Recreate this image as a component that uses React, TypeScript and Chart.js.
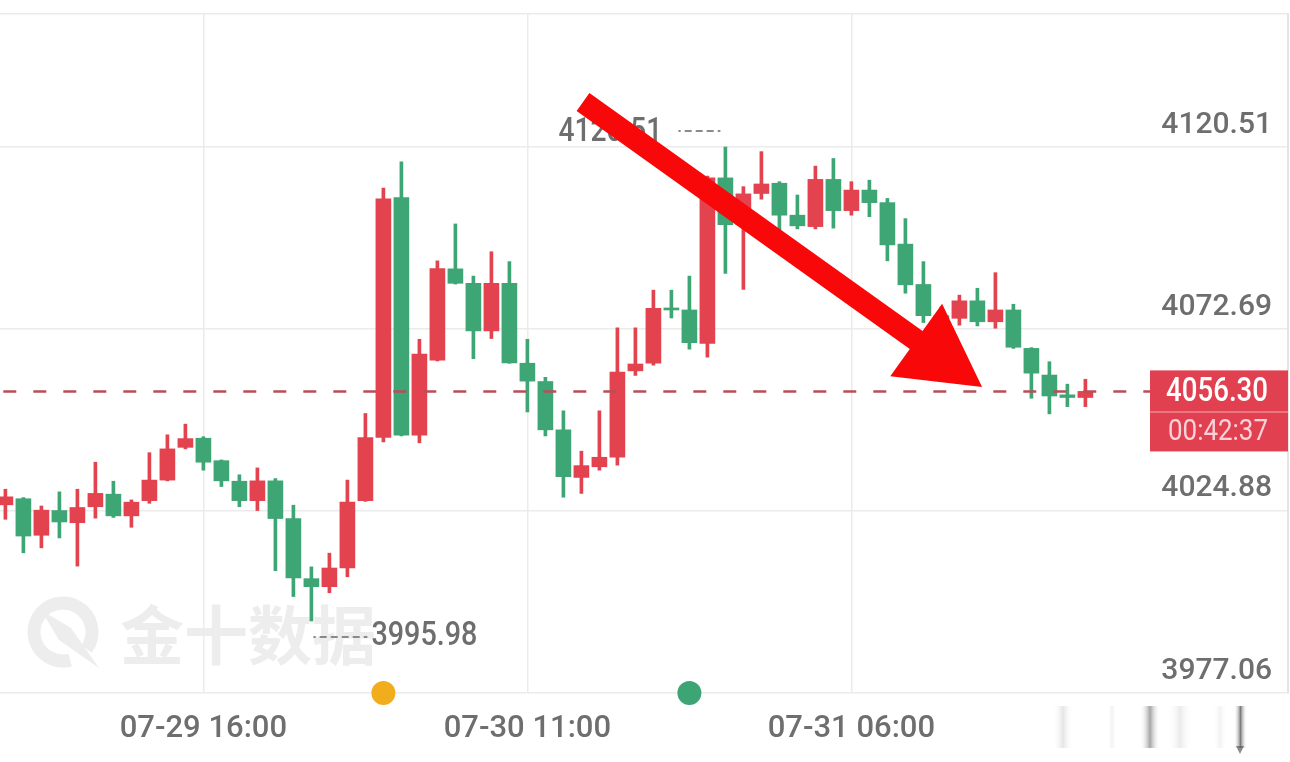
import React, { useEffect, useRef } from "react";
import { Chart, registerables } from "chart.js";

Chart.register(...registerables);

// ---------- data ----------
const timeLabels: string[] = [
  "07-29 04:00", "07-29 06:00", "07-29 07:00", "07-29 08:00", "07-29 09:00", "07-29 10:00",
  "07-29 11:00", "07-29 12:00", "07-29 13:00", "07-29 14:00", "07-29 15:00", "07-29 16:00",
  "07-29 17:00", "07-29 18:00", "07-29 19:00", "07-29 20:00", "07-29 21:00", "07-29 22:00",
  "07-29 23:00", "07-30 00:00", "07-30 01:00", "07-30 02:00", "07-30 03:00", "07-30 04:00",
  "07-30 06:00", "07-30 07:00", "07-30 08:00", "07-30 09:00", "07-30 10:00", "07-30 11:00",
  "07-30 12:00", "07-30 13:00", "07-30 14:00", "07-30 15:00", "07-30 16:00", "07-30 17:00",
  "07-30 18:00", "07-30 19:00", "07-30 20:00", "07-30 21:00", "07-30 22:00", "07-30 23:00",
  "07-31 00:00", "07-31 01:00", "07-31 02:00", "07-31 03:00", "07-31 04:00", "07-31 06:00",
  "07-31 07:00", "07-31 08:00", "07-31 09:00", "07-31 10:00", "07-31 11:00", "07-31 12:00",
  "07-31 13:00", "07-31 14:00", "07-31 15:00", "07-31 16:00", "07-31 17:00", "07-31 18:00",
  "07-31 19:00",
];

const opens: number[] = [
  4026.5, 4028.1, 4018.5, 4025.0, 4021.8, 4026.0, 4029.3, 4023.6, 4027.6, 4033.0,
  4041.6, 4044.0, 4038.1, 4032.7, 4027.6, 4032.8, 4022.9, 4007.1, 4005.0, 4009.9,
  4027.6, 4044.2, 4107.2, 4044.8, 4064.5, 4088.5, 4084.7, 4072.2, 4084.7, 4063.7,
  4058.9, 4046.2, 4033.7, 4036.5, 4039.0, 4061.7, 4063.7, 4078.1, 4077.7, 4068.9,
  4112.4, 4100.1, 4108.3, 4111.0, 4102.6, 4099.6, 4112.0, 4103.8, 4109.2, 4105.9,
  4095.0, 4084.4, 4076.2, 4075.5, 4080.1, 4074.6, 4077.7, 4067.6, 4060.6, 4055.4,
  4054.7,
];
const highs: number[] = [
  4030.6, 4028.4, 4026.2, 4029.9, 4030.6, 4037.7, 4032.7, 4027.8, 4040.2, 4044.9,
  4047.7, 4044.4, 4038.3, 4034.4, 4036.2, 4033.4, 4026.4, 4010.2, 4013.8, 4033.0,
  4050.5, 4109.7, 4116.6, 4070.0, 4090.6, 4100.3, 4086.6, 4093.0, 4090.4, 4070.0,
  4060.0, 4051.2, 4040.6, 4051.2, 4073.0, 4073.0, 4082.9, 4082.9, 4086.6, 4112.9,
  4120.51, 4110.1, 4119.3, 4111.4, 4107.9, 4115.5, 4117.5, 4111.4, 4111.8, 4107.0,
  4101.7, 4090.4, 4078.5, 4081.6, 4083.4, 4087.5, 4079.2, 4067.8, 4064.1, 4058.2,
  4059.5,
];
const lows: number[] = [
  4022.7, 4013.9, 4015.2, 4017.8, 4010.4, 4023.0, 4023.2, 4020.6, 4026.9, 4032.8,
  4041.2, 4035.6, 4031.3, 4026.0, 4025.0, 4009.2, 4002.4, 3995.98, 4003.4, 4007.6,
  4027.4, 4043.0, 4044.6, 4042.8, 4064.3, 4084.5, 4064.9, 4070.2, 4063.7, 4050.9,
  4044.6, 4028.5, 4029.5, 4035.6, 4036.9, 4060.5, 4063.2, 4075.6, 4067.4, 4065.3,
  4087.3, 4083.1, 4106.8, 4098.7, 4099.0, 4099.0, 4099.2, 4102.6, 4102.2, 4090.6,
  4082.1, 4074.4, 4073.0, 4073.7, 4073.5, 4072.9, 4067.6, 4054.5, 4050.4, 4052.3,
  4052.3,
];
const closes: number[] = [
  4028.6, 4018.3, 4025.1, 4022.0, 4025.8, 4029.5, 4023.6, 4027.2, 4033.0, 4041.2,
  4043.9, 4037.7, 4032.8, 4027.6, 4032.8, 4022.9, 4007.3, 4005.0, 4009.9, 4027.2,
  4044.2, 4106.9, 4044.8, 4066.1, 4088.6, 4084.7, 4072.2, 4084.7, 4063.8, 4059.0,
  4046.2, 4033.9, 4036.8, 4039.0, 4061.4, 4063.5, 4078.1, 4077.7, 4069.1, 4112.4,
  4100.1, 4108.2, 4110.8, 4102.6, 4099.8, 4112.0, 4103.8, 4109.2, 4105.9, 4094.8,
  4084.3, 4076.2, 4075.5, 4080.1, 4074.6, 4077.7, 4067.9, 4061.1, 4055.1, 4054.7,
  4056.3,
];

const yTickValues: number[] = [3977.06, 4024.88, 4072.69, 4120.51];
const yMin = 3977.06;
const yMax = 4155.46;
const xTickIndexes: number[] = [11, 29, 47];
const eventIndexes: number[] = [21, 38];
const eventColors: string[] = ["#F2AD1D", "#3DA573"];
const lastPrice = 4056.3;
const countdownText = "00:42:37";
const arrowStart = { x: 32.09, y: 4132.33 };
const arrowEnd = { x: 54.26, y: 4057.45 };
const watermarkText = "金十数据";

// ---------- styles ----------
const W = 1290;
const H = 762;
const CANDLE_STEP = 18;
const UP = "#E2434F";
const DOWN = "#3EA574";
const GRID = "#EBEBEB";
const LABEL = "#6E6E6E";
const NUM_FONT = "Roboto, 'DejaVu Sans Condensed', sans-serif";

function fitText(
  ctx: CanvasRenderingContext2D,
  text: string,
  x: number,
  y: number,
  font: string,
  width: number,
  align: CanvasTextAlign
) {
  ctx.save();
  ctx.font = font;
  const w = ctx.measureText(text).width || 1;
  ctx.translate(x, y);
  ctx.scale(width / w, 1);
  ctx.textAlign = align;
  ctx.textBaseline = "middle";
  ctx.fillText(text, 0, 0);
  ctx.restore();
}

const overlayPlugin = {
  id: "overlay",
  beforeDraw(chart: any) {
    const ctx = chart.ctx as CanvasRenderingContext2D;
    const { left, bottom } = chart.chartArea;
    ctx.save();
    const col = "#EDEDED";
    const cx = left + 63;
    const cy = bottom - 61;
    ctx.strokeStyle = col;
    ctx.lineWidth = 13;
    ctx.beginPath();
    ctx.arc(cx, cy, 29, Math.PI * 0.42, Math.PI * 2.2);
    ctx.stroke();
    ctx.fillStyle = col;
    ctx.beginPath();
    ctx.moveTo(cx - 22, cy - 22);
    ctx.lineTo(cx + 8, cy - 4);
    ctx.lineTo(cx + 36, cy + 36);
    ctx.lineTo(cx - 4, cy + 8);
    ctx.closePath();
    ctx.fill();
    ctx.font = "bold 64px 'Noto Sans CJK SC'";
    ctx.textBaseline = "middle";
    ctx.textAlign = "left";
    ctx.fillText(watermarkText, left + 120, bottom - 58);
    ctx.restore();
  },
  afterDatasetsDraw(chart: any) {
    const ctx = chart.ctx as CanvasRenderingContext2D;
    const xs = chart.scales.x;
    const ys = chart.scales.y;
    const { left, right } = chart.chartArea;
    ctx.save();
    // last price dashed line
    const py = ys.getPixelForValue(lastPrice);
    const boxLeft = right - 138;
    ctx.strokeStyle = "#BA4E58";
    ctx.lineWidth = 2.5;
    ctx.setLineDash([13, 17]);
    ctx.lineDashOffset = 26.7;
    ctx.beginPath();
    ctx.moveTo(left, py);
    ctx.lineTo(boxLeft, py);
    ctx.stroke();
    ctx.setLineDash([]);

    // max / min markers
    const maxIdx = highs.indexOf(Math.max(...highs));
    const minIdx = lows.indexOf(Math.min(...lows));
    ctx.fillStyle = LABEL;
    ctx.strokeStyle = "#8A8A8A";
    ctx.lineWidth = 2;
    ctx.setLineDash([7, 4]);
    const hx = xs.getPixelForValue(maxIdx);
    const hy = ys.getPixelForValue(highs[maxIdx]) - 16;
    ctx.beginPath();
    ctx.moveTo(hx - 47, hy);
    ctx.lineTo(hx - 5, hy);
    ctx.stroke();
    const lx = xs.getPixelForValue(minIdx);
    const ly = ys.getPixelForValue(lows[minIdx]) + 16;
    ctx.beginPath();
    ctx.moveTo(lx + 2, ly);
    ctx.lineTo(lx + 56, ly);
    ctx.stroke();
    ctx.setLineDash([]);
    fitText(ctx, highs[maxIdx].toFixed(2), hx - 63, hy + 1, `500 34px ${NUM_FONT}`, 104, "right");
    fitText(ctx, lows[minIdx].toFixed(2), lx + 60, ly, `500 34px ${NUM_FONT}`, 106, "left");

    // arrow
    const x0 = xs.getPixelForValue(arrowStart.x);
    const y0 = ys.getPixelForValue(arrowStart.y);
    const x1 = xs.getPixelForValue(arrowEnd.x);
    const y1 = ys.getPixelForValue(arrowEnd.y);
    const len = Math.hypot(x1 - x0, y1 - y0);
    const ux = (x1 - x0) / len;
    const uy = (y1 - y0) / len;
    const nx = -uy;
    const ny = ux;
    const sw = 11;
    const hw = 44.6;
    const hl = 81;
    const bx = x1 - ux * hl;
    const by = y1 - uy * hl;
    ctx.fillStyle = "#F80808";
    ctx.beginPath();
    ctx.moveTo(x0 + nx * sw, y0 + ny * sw);
    ctx.lineTo(bx + nx * sw, by + ny * sw);
    ctx.lineTo(bx + nx * hw, by + ny * hw);
    ctx.lineTo(x1, y1);
    ctx.lineTo(bx - nx * hw, by - ny * hw);
    ctx.lineTo(bx - nx * sw, by - ny * sw);
    ctx.lineTo(x0 - nx * sw, y0 - ny * sw);
    ctx.closePath();
    ctx.fill();
    ctx.restore();
  },
  afterDraw(chart: any) {
    const ctx = chart.ctx as CanvasRenderingContext2D;
    const xs = chart.scales.x;
    const ys = chart.scales.y;
    const { right, bottom } = chart.chartArea;
    ctx.save();
    // price box
    const py = ys.getPixelForValue(lastPrice);
    const bl = right - 138;
    ctx.fillStyle = "#E0404F";
    ctx.fillRect(bl, py - 21, right - bl, 81);
    ctx.strokeStyle = "#F08A94";
    ctx.lineWidth = 1.5;
    ctx.beginPath();
    ctx.moveTo(bl, py + 20.5);
    ctx.lineTo(right, py + 20.5);
    ctx.stroke();
    ctx.fillStyle = "#FFFFFF";
    fitText(ctx, lastPrice.toFixed(2), right - 20, py + 1, `500 34px ${NUM_FONT}`, 102, "right");
    ctx.fillStyle = "#FAD3D8";
    fitText(ctx, countdownText, right - 20, py + 41, `29px ${NUM_FONT}`, 100, "right");

    // event dots
    eventIndexes.forEach((ix, k) => {
      ctx.fillStyle = eventColors[k];
      ctx.beginPath();
      ctx.arc(xs.getPixelForValue(ix), bottom, 12, 0, Math.PI * 2);
      ctx.fill();
    });

    // blurred toolbar icons bottom-right
    const bars = [
      { x: 1053, w: 20, c: "rgba(150,150,150,0.25)" },
      { x: 1107, w: 10, c: "rgba(150,150,150,0.12)" },
      { x: 1140, w: 20, c: "rgba(90,90,90,0.55)" },
      { x: 1168, w: 24, c: "rgba(150,150,150,0.2)" },
      { x: 1213, w: 14, c: "rgba(150,150,150,0.12)" },
      { x: 1234, w: 13, c: "rgba(80,80,80,0.75)" },
    ];
    bars.forEach((b) => {
      const g = ctx.createLinearGradient(b.x, 0, b.x + b.w, 0);
      g.addColorStop(0, "rgba(255,255,255,0)");
      g.addColorStop(0.5, b.c);
      g.addColorStop(1, "rgba(255,255,255,0)");
      ctx.fillStyle = g;
      ctx.fillRect(b.x, 706, b.w, 42);
    });
    ctx.fillStyle = "rgba(90,90,90,0.7)";
    ctx.beginPath();
    ctx.moveTo(1236, 746);
    ctx.lineTo(1244, 746);
    ctx.lineTo(1240, 754);
    ctx.closePath();
    ctx.fill();
    ctx.restore();
  },
};

export default function App() {
  const ref = useRef<HTMLCanvasElement>(null);
  useEffect(() => {
    document.body.style.margin = "0";
    const canvas = ref.current;
    if (!canvas) return;
    const idx = timeLabels.map((_, i) => i);
    const colors = idx.map((i) => (closes[i] >= opens[i] ? UP : DOWN));
    const bodies = idx.map((i) => ({ x: i, y: [opens[i], closes[i]] }));
    const wicks = idx.map((i) => ({ x: i, y: [lows[i], highs[i]] }));
    const chartWidth = W - 2;
    const chart = new Chart(canvas, {
      type: "bar",
      data: {
        datasets: [
          {
            label: "body",
            data: bodies as any,
            backgroundColor: colors,
            borderWidth: 0,
            barThickness: 15,
            grouped: false,
            minBarLength: 2,
            order: 1,
          } as any,
          {
            label: "wick",
            data: wicks as any,
            backgroundColor: colors,
            borderWidth: 0,
            barThickness: 3,
            grouped: false,
            order: 2,
          } as any,
        ],
      },
      options: {
        responsive: false,
        animation: false,
        devicePixelRatio: 1,
        layout: { padding: { top: 14, left: 0, right: 0, bottom: 0 } },
        plugins: { legend: { display: false }, tooltip: { enabled: false } },
        scales: {
          x: {
            type: "linear",
            offset: false,
            min: -0.3,
            max: -0.3 + chartWidth / CANDLE_STEP,
            grid: { color: GRID, lineWidth: 1.5, drawTicks: false, offset: false },
            border: { display: false },
            ticks: {
              autoSkip: false,
              maxRotation: 0,
              padding: 18,
              color: LABEL,
              font: { family: NUM_FONT, size: 31, weight: "500" },
              callback: (v: any) => timeLabels[Number(v)] ?? "",
            },
            afterBuildTicks: (s: any) => {
              s.ticks = xTickIndexes.map((v) => ({ value: v }));
            },
            afterFit: (s: any) => {
              s.height = 69;
              s.paddingLeft = 0;
              s.paddingRight = 0;
            },
          },
          y: {
            type: "linear",
            position: "right",
            min: yMin,
            max: yMax,
            grid: { color: GRID, lineWidth: 1.5, drawTicks: false },
            border: { display: true, color: "#E4E4E4", width: 2 },
            ticks: {
              mirror: true,
              padding: -16,
              labelOffset: -22,
              color: LABEL,
              font: { family: NUM_FONT, size: 30, weight: "500" },
              callback: (v: any) => (yTickValues.includes(Number(v)) ? Number(v).toFixed(2) : ""),
            },
            afterBuildTicks: (s: any) => {
              s.ticks = [...yTickValues, yMax].map((v) => ({ value: v }));
            },
            afterFit: (s: any) => {
              s.width = 2;
              s.paddingTop = 0;
              s.paddingBottom = 0;
            },
          },
        },
      } as any,
      plugins: [overlayPlugin as any],
    });
    return () => chart.destroy();
  }, []);
  return (
    <div style={{ position: "absolute", left: 0, top: 0, width: W, height: H, background: "#fff" }}>
      <canvas ref={ref} width={W} height={H} />
    </div>
  );
}
